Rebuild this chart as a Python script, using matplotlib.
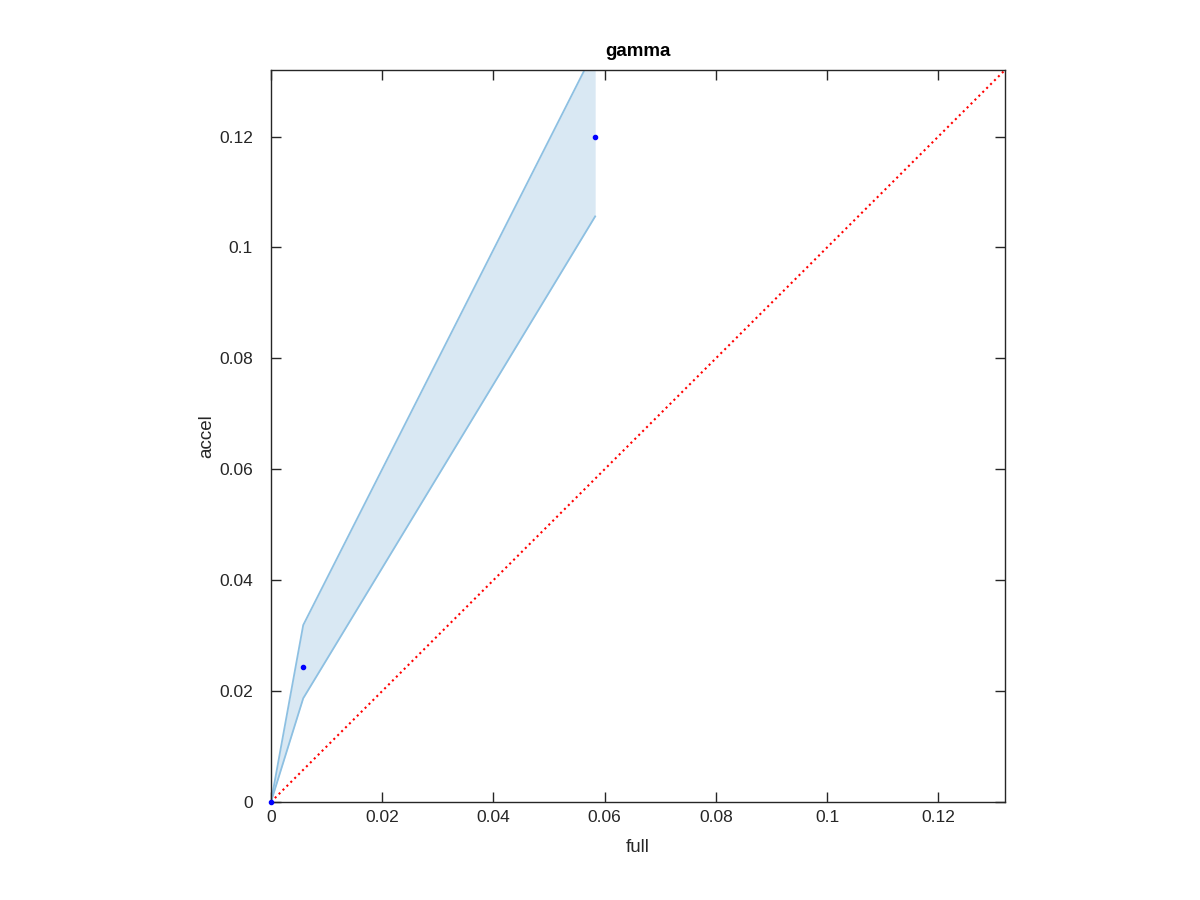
import numpy as np
import matplotlib.pyplot as plt

plt.rcParams['font.family'] = ['Liberation Sans', 'DejaVu Sans']

# Values
full = [0.0, 0.0058, 0.0583]
accel = [0.0, 0.0243, 0.1200]
accel_upper = [0.0, 0.0319, 0.1358]
accel_lower = [0.0, 0.0187, 0.1056]
lim = 0.132
ticks = [0, 0.02, 0.04, 0.06, 0.08, 0.1, 0.12]
tick_labels = ['0', '0.02', '0.04', '0.06', '0.08', '0.1', '0.12']

fig = plt.figure(figsize=(12, 9), dpi=100)
ax = fig.add_axes([0.2258, 0.1089, 0.6117, 0.8133])

ax.fill_between(full, accel_lower, accel_upper, color='#d9e8f3', linewidth=0)
ax.plot(full, accel_upper, color='#8dc0e2', linewidth=1.3)
ax.plot(full, accel_lower, color='#8dc0e2', linewidth=1.3)
ax.plot([0, lim], [0, lim], color='red', linestyle=':', linewidth=1.5)
ax.plot(full, accel, 'o', color='blue', markersize=3, clip_on=False, zorder=5)

ax.set_xlim(0, lim)
ax.set_ylim(0, lim)
ax.set_xticks(ticks)
ax.set_xticklabels(tick_labels)
ax.set_yticks(ticks)
ax.set_yticklabels(tick_labels)
ax.tick_params(direction='in', top=True, right=True, length=7, width=1,
               labelsize=12.5, colors='#262626')
ax.tick_params(axis='x', pad=6)
ax.tick_params(axis='y', pad=13)
for s in ax.spines.values():
    s.set_color('#262626')
    s.set_linewidth(1)

ax.set_xlabel('full', fontsize=13.5, color='#262626', labelpad=10)
ax.set_ylabel('accel', fontsize=13.5, color='#262626', labelpad=3)
ax.set_title('gamma', fontsize=13.5, fontweight='bold', pad=10)

fig.savefig('out.png', dpi=100)
